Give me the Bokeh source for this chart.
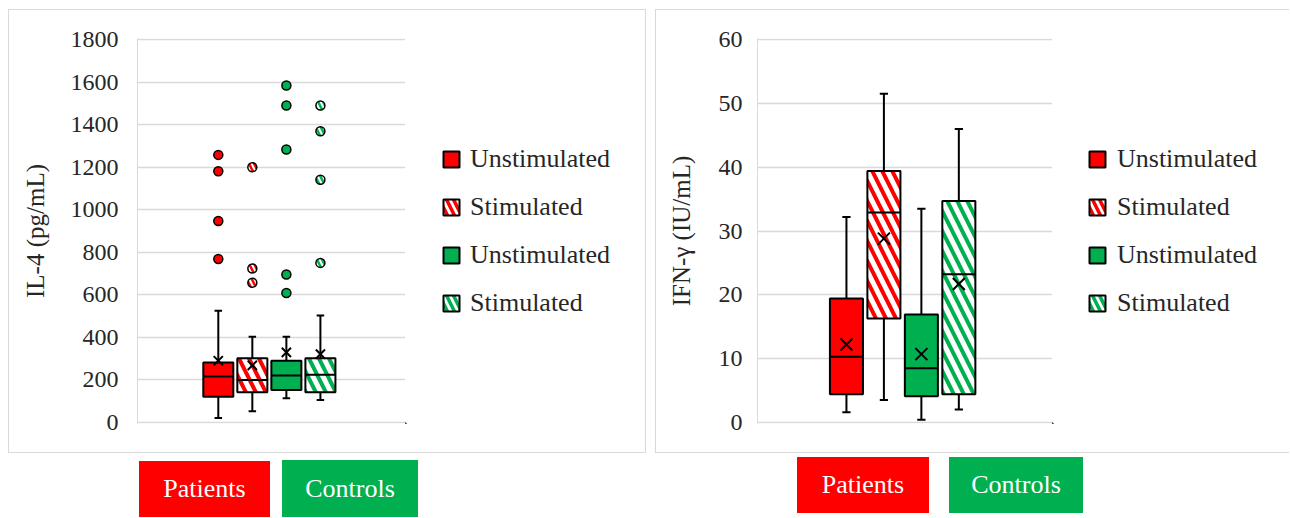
from bokeh.plotting import figure
from bokeh.models import Range1d, FixedTicker, Legend, LegendItem, ColumnDataSource, Div, Spacer
from bokeh.layouts import row, column
from bokeh.embed import file_html
from bokeh.resources import INLINE

# ---------------- data ----------------
series_labels = ["Unstimulated", "Stimulated", "Unstimulated", "Stimulated"]
group_labels = ["Patients", "Controls"]

il4_low = [20, 52, 113, 105]
il4_q1 = [121, 141, 152, 141]
il4_median = [216, 199, 220, 224]
il4_q3 = [282, 301, 290, 301]
il4_high = [525, 403, 403, 502]
il4_mean = [290, 268, 329, 321]
il4_outliers = [[1258, 1181, 947, 768], [1200, 724, 657], [1584, 1490, 1283, 695, 608], [1490, 1369, 1141, 750]]
il4_ticks = [0, 200, 400, 600, 800, 1000, 1200, 1400, 1600, 1800]

ifn_low = [1.6, 3.5, 0.4, 2.0]
ifn_q1 = [4.4, 16.3, 4.1, 4.4]
ifn_median = [10.3, 32.9, 8.5, 23.2]
ifn_q3 = [19.4, 39.4, 16.9, 34.7]
ifn_high = [32.2, 51.5, 33.5, 46.0]
ifn_mean = [12.2, 28.8, 10.7, 21.7]
ifn_outliers = [[], [], [], []]
ifn_ticks = [0, 10, 20, 30, 40, 50, 60]

# ---------------- style ----------------
RED = "#FF0000"
GREEN = "#00B050"
GRID = "#d9d9d9"
TXT = "#262626"
SERIES_STYLE = [
    dict(fill=RED, hatch=None, hcol=RED),
    dict(fill="white", hatch="left_diagonal_line", hcol=RED),
    dict(fill=GREEN, hatch=None, hcol=GREEN),
    dict(fill="white", hatch="left_diagonal_line", hcol=GREEN),
]
HATCH = dict(hatch_scale=20, hatch_weight=4)
CENTER = 0.492
STEP = 0.127
BOX_W = 0.112
CAP_W = 0.028
CONTENT_H = 442
FRAME_TOP = 28
FRAME_H = 385
PAD = 0.003          # small range padding so the end gridlines stay visible
LW = 2
FONT = "Liberation Serif"


def make_plot(y_title, y_max, y_ticks, low, q1, med, q3, high, mean, outliers,
              left_pad, frame_w, tick_gap, title_gap, mean_size):
    p = figure(width=left_pad + frame_w, height=CONTENT_H, x_range=Range1d(0, 1),
               y_range=Range1d(-PAD * y_max, (1 + PAD) * y_max),
               output_backend="svg", toolbar_location=None, x_axis_location=None,
               min_border_left=left_pad, min_border_right=0,
               min_border_top=FRAME_TOP, min_border_bottom=CONTENT_H - FRAME_TOP - FRAME_H)
    p.outline_line_color = None
    p.background_fill_color = "white"
    p.border_fill_color = "white"
    p.xgrid.grid_line_color = None
    p.ygrid.grid_line_color = GRID
    p.ygrid.grid_line_width = 1.5
    p.ygrid.ticker = FixedTicker(ticks=y_ticks)
    ax = p.yaxis[0]
    ax.ticker = FixedTicker(ticks=y_ticks)
    ax.axis_line_color = GRID
    ax.axis_line_width = 1
    ax.major_tick_line_color = None
    ax.minor_tick_line_color = None
    ax.major_tick_out = 0
    ax.major_tick_in = 0
    ax.major_label_standoff = tick_gap
    ax.major_label_text_font = FONT
    ax.major_label_text_font_size = "24px"
    ax.major_label_text_color = TXT
    ax.axis_label = y_title
    ax.axis_label_text_font = FONT
    ax.axis_label_text_font_size = "25px"
    ax.axis_label_text_font_style = "normal"
    ax.axis_label_text_color = TXT
    ax.axis_label_standoff = title_gap

    n = len(q1)
    xs = [CENTER + (i - (n - 1) / 2) * STEP for i in range(n)]
    src = ColumnDataSource(dict(
        x=xs,
        xl=[x - BOX_W / 2 for x in xs], xr=[x + BOX_W / 2 for x in xs],
        cl=[x - CAP_W / 2 for x in xs], cr=[x + CAP_W / 2 for x in xs],
        low=low, q1=q1, med=med, q3=q3, high=high, mean=mean))

    # whiskers and caps
    p.segment(x0="x", y0="q3", x1="x", y1="high", source=src, line_color="black", line_width=LW)
    p.segment(x0="x", y0="low", x1="x", y1="q1", source=src, line_color="black", line_width=LW)
    p.segment(x0="cl", y0="high", x1="cr", y1="high", source=src, line_color="black", line_width=LW)
    p.segment(x0="cl", y0="low", x1="cr", y1="low", source=src, line_color="black", line_width=LW)

    for i in range(n):
        st = SERIES_STYLE[i]
        p.vbar(x=[xs[i]], width=BOX_W, bottom=[q1[i]], top=[q3[i]],
               fill_color=st["fill"], line_color="black", line_width=LW,
               hatch_pattern=st["hatch"], hatch_color=st["hcol"], **HATCH)
        if outliers[i]:
            p.scatter(x=[xs[i]] * len(outliers[i]), y=outliers[i], marker="circle", size=9,
                      fill_color=st["fill"], line_color="black", line_width=1.5,
                      hatch_pattern=st["hatch"], hatch_color=st["hcol"], hatch_scale=10, hatch_weight=2.5)

    # medians and means
    p.segment(x0="xl", y0="med", x1="xr", y1="med", source=src, line_color="black", line_width=LW)
    p.scatter(x="x", y="mean", source=src, marker="x", size=mean_size, line_color="black", line_width=2)
    return p


def make_legend(width, gap, standoff):
    # legend panel: one swatch-carrier per series, kept outside the visible range
    lf = figure(width=width, height=CONTENT_H, x_range=Range1d(0, 1), y_range=Range1d(0, 1),
                output_backend="svg", toolbar_location=None, x_axis_location=None, y_axis_location=None,
                min_border=0)
    lf.outline_line_color = None
    lf.grid.grid_line_color = None
    lf.background_fill_color = "white"
    lf.border_fill_color = "white"
    items = []
    for i, lab in enumerate(series_labels):
        st = SERIES_STYLE[i]
        r = lf.vbar(x=[-5], width=0.1, top=[-4], bottom=[-5], fill_color=st["fill"], line_color="black",
                    line_width=LW, hatch_pattern=st["hatch"], hatch_color=st["hcol"],
                    hatch_scale=14, hatch_weight=3.5)
        items.append(LegendItem(label=lab, renderers=[r]))
    legend = Legend(items=items, location="center_left", orientation="vertical",
                    margin=gap, padding=0, spacing=18, glyph_width=20, glyph_height=20,
                    label_height=30, label_standoff=standoff,
                    label_text_font=FONT, label_text_font_size="26px",
                    label_text_color=TXT, border_line_color=None, background_fill_alpha=0)
    lf.add_layout(legend)
    return lf


BORDER = "1px solid #d9d9d9"

left_plot = make_plot("IL-4 (pg/mL)", 1800, il4_ticks, il4_low, il4_q1, il4_median, il4_q3, il4_high,
                      il4_mean, il4_outliers, left_pad=128, frame_w=268, tick_gap=19, title_gap=19,
                      mean_size=13)
left_panel = row(left_plot, make_legend(636 - 396, 36, 9),
                 styles={"border": BORDER})

right_plot = make_plot("IFN-\u03b3 (IU/mL)", 60, ifn_ticks, ifn_low, ifn_q1, ifn_median, ifn_q3, ifn_high,
                       ifn_mean, ifn_outliers, left_pad=101, frame_w=295, tick_gap=15, title_gap=21,
                       mean_size=17)
right_panel = row(right_plot, make_legend(633 - 396, 35, 10),
                  styles={"border-top": BORDER, "border-left": BORDER, "border-bottom": BORDER})


def label_div(text, color, w, h, top):
    html = ('<div style="margin-top:%dpx;width:%dpx;height:%dpx;background:%s;color:#ffffff;'
            'display:flex;align-items:center;justify-content:center;'
            'font-family:\'Liberation Serif\';font-size:26px;">%s</div>') % (top, w, h, color, text)
    return Div(text=html, width=w, height=h + top, margin=(0, 0, 0, 0))


top_row = row(Spacer(width=8, height=1), left_panel, Spacer(width=9, height=1), right_panel)
bottom_row = row(
    Spacer(width=139, height=1), label_div(group_labels[0], RED, 131, 56, 8),
    Spacer(width=12, height=1), label_div(group_labels[1], GREEN, 136, 57, 7),
    Spacer(width=379, height=1), label_div(group_labels[0], RED, 132, 56, 4),
    Spacer(width=20, height=1), label_div(group_labels[1], GREEN, 134, 56, 4),
)
page = column(Spacer(width=1, height=9), top_row, bottom_row)

open("out.html", "w").write(file_html(page, INLINE, title="IL-4 and IFN-gamma"))
